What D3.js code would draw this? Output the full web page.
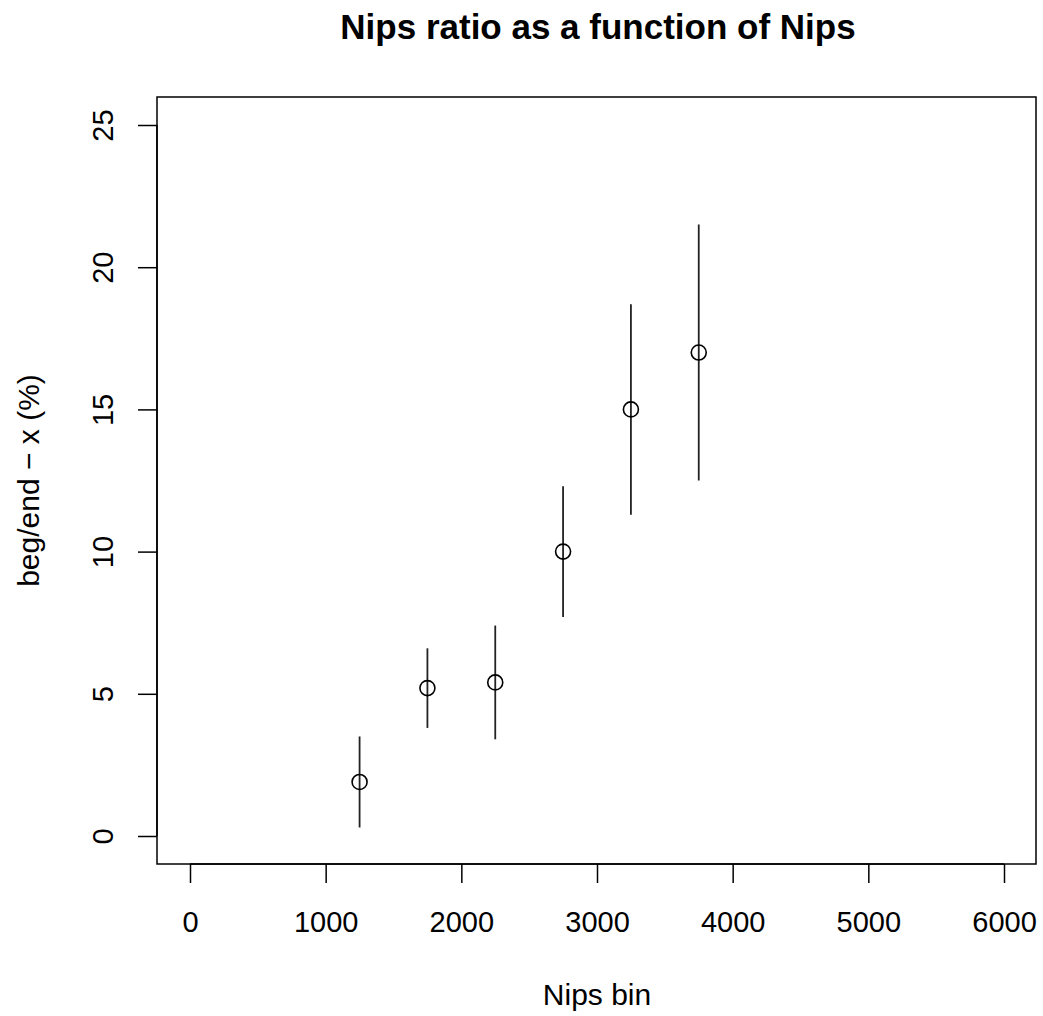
<!DOCTYPE html>
<html>
<head>
<meta charset="utf-8">
<script src="https://cdn.jsdelivr.net/npm/d3@7"></script>
<style>
  html, body { margin: 0; padding: 0; background: #fff; }
  svg { display: block; font-family: "Liberation Sans", Arial, sans-serif; }
</style>
</head>
<body>
<svg id="chart" width="1043" height="1016"></svg>
<script>
// Bin centres and the measured ratio with its interval
const binCenters = [1250, 1750, 2250, 2750, 3250, 3750];
const ratioValues = [1.9, 5.2, 5.4, 10.0, 15.0, 17.0];
const ratioLower = [0.3, 3.8, 3.4, 7.7, 11.3, 12.5];
const ratioUpper = [3.5, 6.6, 7.4, 12.3, 18.7, 21.5];

const xTicks = [0, 1000, 2000, 3000, 4000, 5000, 6000];
const yTicks = [0, 5, 10, 15, 20, 25];

const titleText = "Nips ratio as a function of Nips";
const xLabel = "Nips bin";
const yLabel = "beg/end \u2212 x (%)";

const svg = d3.select("#chart");

// Plot region (box) and the data-to-pixel mapping
const box = { left: 157, top: 97, right: 1036, bottom: 864 };
const x = d3.scaleLinear().domain([0, 6000]).range([190, 1004]);
const y = d3.scaleLinear().domain([0, 25]).range([836, 125]);

const points = binCenters.map((c, i) => ({
  x: c, v: ratioValues[i], lo: ratioLower[i], hi: ratioUpper[i]
}));

// Title
svg.append("text")
  .attr("x", 598)
  .attr("y", 39)
  .attr("text-anchor", "middle")
  .attr("font-size", 35)
  .attr("font-weight", "bold")
  .attr("fill", "#000")
  .text(titleText);

// Frame
svg.append("rect")
  .attr("x", box.left).attr("y", box.top)
  .attr("width", box.right - box.left)
  .attr("height", box.bottom - box.top)
  .attr("fill", "none")
  .attr("stroke", "#000")
  .attr("stroke-width", 1.5);

// X axis
const xAxis = d3.axisBottom(x).tickValues(xTicks).tickSize(19).tickFormat(d3.format("d"));
const gx = svg.append("g").attr("transform", `translate(0,${box.bottom})`).call(xAxis);
gx.select(".domain").attr("d", `M${x(0)},0H${x(6000)}`).attr("stroke-width", 1.5);
gx.selectAll(".tick line").attr("stroke-width", 1.5);
gx.selectAll(".tick text")
  .attr("y", 68).attr("dy", null)
  .attr("font-size", 29)
  .attr("font-family", "Liberation Sans, Arial, sans-serif")
  .attr("fill", "#000");

// Y axis with rotated tick labels
const yAxis = d3.axisLeft(y).tickValues(yTicks).tickSize(19).tickFormat(d3.format("d"));
const gy = svg.append("g").attr("transform", `translate(${box.left},0)`).call(yAxis);
gy.select(".domain").attr("d", `M0,${y(0)}V${y(25)}`).attr("stroke-width", 1.5);
gy.selectAll(".tick line").attr("stroke-width", 1.5);
gy.selectAll(".tick text")
  .attr("x", null).attr("dy", null)
  .attr("font-size", 29)
  .attr("font-family", "Liberation Sans, Arial, sans-serif")
  .attr("fill", "#000")
  .attr("text-anchor", "middle")
  .attr("transform", "translate(-44,0) rotate(-90)");

// Axis titles
svg.append("text")
  .attr("x", 597)
  .attr("y", 1005)
  .attr("text-anchor", "middle")
  .attr("font-size", 30)
  .attr("fill", "#000")
  .text(xLabel);

svg.append("text")
  .attr("transform", `translate(39,${(box.top + box.bottom) / 2}) rotate(-90)`)
  .attr("text-anchor", "middle")
  .attr("font-size", 30)
  .attr("fill", "#000")
  .text(yLabel);

// Interval bars
svg.append("g").selectAll("line")
  .data(points)
  .join("line")
  .attr("x1", d => x(d.x)).attr("x2", d => x(d.x))
  .attr("y1", d => y(d.lo)).attr("y2", d => y(d.hi))
  .attr("stroke", "#222")
  .attr("stroke-width", 1.8);

// Point markers (open circles)
svg.append("g").selectAll("circle")
  .data(points)
  .join("circle")
  .attr("cx", d => x(d.x))
  .attr("cy", d => y(d.v))
  .attr("r", 7.5)
  .attr("fill", "none")
  .attr("stroke", "#000")
  .attr("stroke-width", 1.6);
</script>
</body>
</html>
